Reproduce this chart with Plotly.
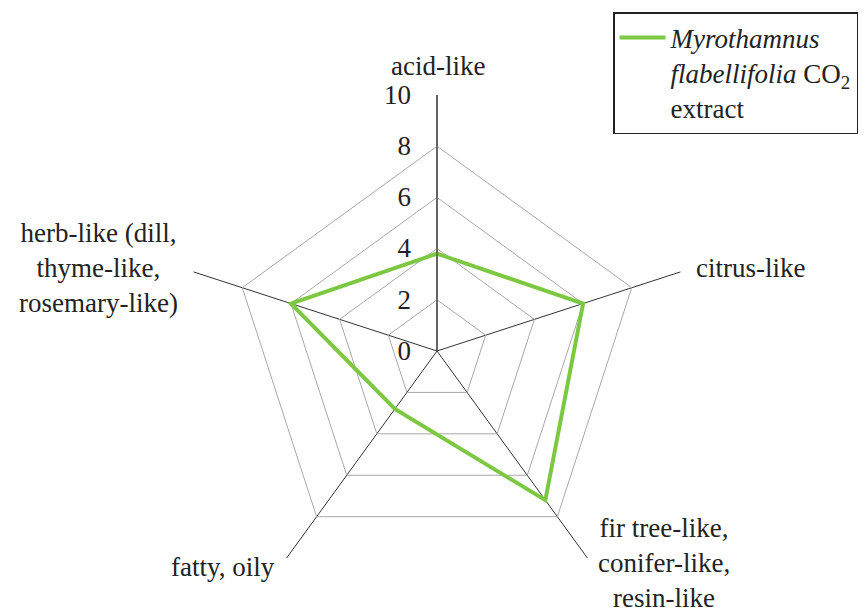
import plotly.graph_objects as go

categories = [
    "acid-like",
    "citrus-like",
    "fir tree-like,<br>conifer-like,<br>resin-like",
    "fatty, oily",
    "herb-like (dill,<br>thyme-like,<br>rosemary-like)",
]
values = [3.8, 6.0, 7.2, 2.8, 6.0]
series_name = "<i>Myrothamnus</i><br><i>flabellifolia</i> CO<sub>2</sub><br>extract"
radial_ticks = [0, 2, 4, 6, 8, 10]

# label anchor positions (paper px) for category texts
label_pos = [
    (438, 66),
    (750, 268),
    (664, 563),
    (223, 567),
    (98, 268),
]

FONT = "Liberation Serif"
FS = 27
W, H = 868, 610

fig = go.Figure()
fig.add_trace(go.Scatterpolar(
    r=values + values[:1],
    theta=categories + categories[:1],
    mode="lines",
    line=dict(color="#7dc843", width=4),
    name=series_name,
    showlegend=True,
))

for cat, (px, py) in zip(categories, label_pos):
    fig.add_annotation(
        x=px / W, y=1 - py / H, xref="paper", yref="paper",
        text=cat, showarrow=False, align="center",
        xanchor="center", yanchor="middle",
        font=dict(family=FONT, size=FS, color="#222"),
    )

fig.update_layout(
    width=W, height=H,
    margin=dict(l=0, r=0, t=0, b=0, autoexpand=False),
    paper_bgcolor="white",
    plot_bgcolor="white",
    font=dict(family=FONT, size=FS, color="#222"),
    showlegend=True,
    legend=dict(
        x=613 / W, y=1 - 12 / H, xanchor="left", yanchor="top",
        bordercolor="#222", borderwidth=1.5,
        font=dict(family=FONT, size=FS, color="#222"),
        valign="top",
        itemwidth=46,
    ),
    polar=dict(
        domain=dict(x=[181 / W, 693 / W], y=[1 - 607 / H, 1 - 95 / H]),
        bgcolor="white",
        gridshape="linear",
        radialaxis=dict(
            range=[0, 10],
            tickvals=radial_ticks,
            ticktext=[str(t) for t in radial_ticks],
            angle=90,
            tickangle=90,
            side="counterclockwise",
            showline=True,
            linecolor="#333",
            linewidth=1,
            gridcolor="#a8a8a8",
            gridwidth=1,
            ticks="outside",
            ticklen=16,
            tickcolor="rgba(0,0,0,0)",
            tickfont=dict(family=FONT, size=FS, color="#222"),
        ),
        angularaxis=dict(
            direction="clockwise",
            rotation=90,
            showline=False,
            showticklabels=False,
            gridcolor="#333",
            gridwidth=1,
            ticks="",
        ),
    ),
)

fig.write_html(
    "out.html",
    config={"displayModeBar": False},
    post_script="document.body.style.margin='0';document.body.style.overflow='hidden';",
)
